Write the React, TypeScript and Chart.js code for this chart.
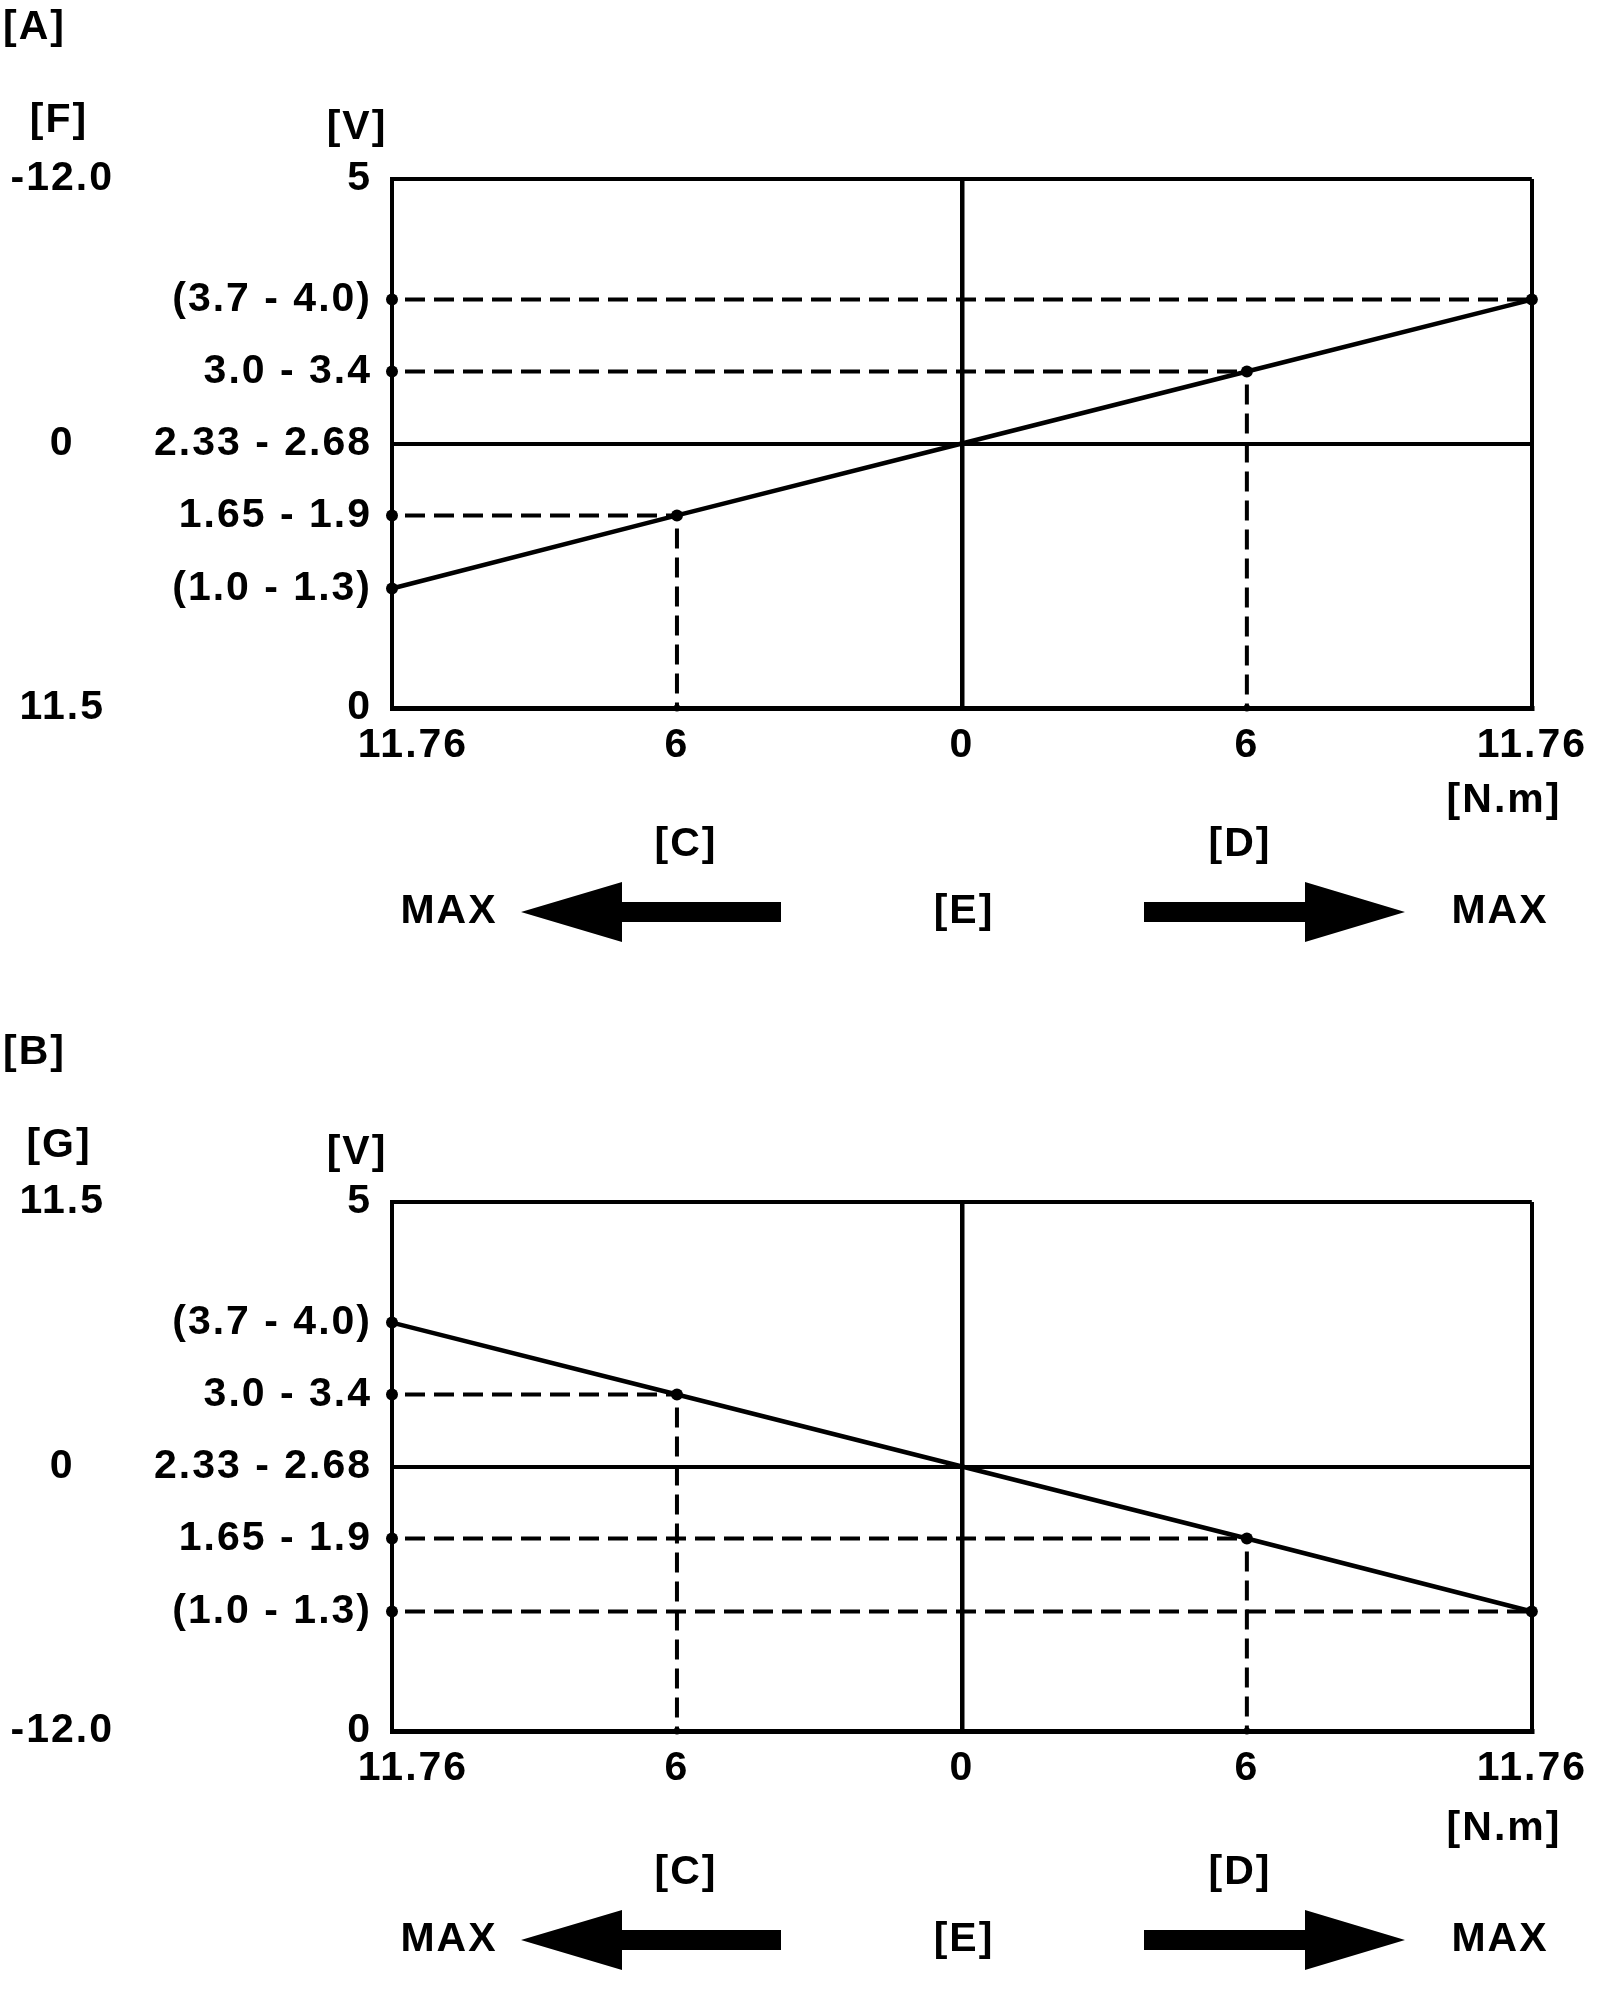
import React, { useEffect, useRef } from "react";
import { Chart, registerables } from "chart.js";

Chart.register(...registerables);

const FONT = '"Liberation Sans", Arial, Helvetica, sans-serif';
const FONT_SIZE = 41;
const FONT_WEIGHT = "bold";
const LETTER_SPACING = "2px";

// ---- data ----
const TORQUE_POS = [0, 1, 2, 3, 4];
const TORQUE_LABELS = ["11.76", "6", "0", "6", "11.76"];
const VOLT_TICKS = [0, 1.13, 1.82, 2.5, 3.18, 3.86, 5];
const VOLT_LABELS = ["0", "(1.0 - 1.3)", "1.65 - 1.9", "2.33 - 2.68", "3.0 - 3.4", "(3.7 - 4.0)", "5"];
const SIDE_TICKS = [0, 2.5, 5];
const F_LABELS = ["11.5", "0", "-12.0"];
const G_LABELS = ["-12.0", "0", "11.5"];
const VOLT_A = [1.13, 1.82, 2.5, 3.18, 3.86];
const VOLT_B = [3.86, 3.18, 2.5, 1.82, 1.13];
const GUIDE_IDX = [1, 3, 4];
const DROP_IDX = [1, 3];

type PanelCfg = {
  title: string;
  side: string;
  sideLabels: string[];
  volts: number[];
  topDy: number;
  lowDy: number;
};

const PANEL_A: PanelCfg = { title: "[A]", side: "[F]", sideLabels: F_LABELS, volts: VOLT_A, topDy: 0, lowDy: 0 };
const PANEL_B: PanelCfg = { title: "[B]", side: "[G]", sideLabels: G_LABELS, volts: VOLT_B, topDy: 2, lowDy: 5 };

const DASH = [20, 9];

function buildDatasets(volts: number[]) {
  const ds: any[] = [];
  ds.push({
    label: "main",
    data: TORQUE_POS.map((x, i) => ({ x, y: volts[i] })),
    borderColor: "#000",
    borderWidth: 4.5,
    pointRadius: TORQUE_POS.map((_, i) => (i === 2 ? 0 : 6)),
    pointBackgroundColor: "#000",
    pointBorderWidth: 0,
    clip: false,
    tension: 0,
  });
  GUIDE_IDX.forEach((i) => {
    ds.push({
      label: "h" + i,
      data: [
        { x: TORQUE_POS[0], y: volts[i] },
        { x: TORQUE_POS[i], y: volts[i] },
      ],
      borderColor: "#000",
      borderWidth: 4,
      borderDash: DASH,
      borderDashOffset: 16,
      pointRadius: [6, 0],
      pointBackgroundColor: "#000",
      pointBorderWidth: 0,
      clip: false,
    });
  });
  DROP_IDX.forEach((i) => {
    ds.push({
      label: "v" + i,
      data: [
        { x: TORQUE_POS[i], y: volts[i] },
        { x: TORQUE_POS[i], y: 0 },
      ],
      borderColor: "#000",
      borderWidth: 4,
      borderDash: DASH,
      borderDashOffset: 16,
      pointRadius: [0, 3.5],
      pointBackgroundColor: "#000",
      pointBorderWidth: 0,
      clip: false,
    });
  });
  return ds;
}

const spacingPlugin = {
  id: "spacing",
  beforeUpdate(chart: any) {
    chart.ctx.letterSpacing = LETTER_SPACING;
  },
  beforeLayout(chart: any) {
    chart.ctx.letterSpacing = LETTER_SPACING;
  },
  beforeDraw(chart: any) {
    chart.ctx.letterSpacing = LETTER_SPACING;
    // the first torque label sits a little right of its tick in the drawing
    const s = chart.scales && chart.scales.x;
    if (s && typeof s.getLabelItems === "function") {
      try {
        const items = s.getLabelItems();
        if (items && items[0] && !items[0].__shifted && items[0].options && items[0].options.translation) {
          items[0].options.translation[0] += 21;
          items[0].__shifted = true;
        }
      } catch (e) {
        /* ignore */
      }
    }
  },
};

function annotPlugin(cfg: PanelCfg) {
  return {
    id: "annot",
    afterDraw(chart: any) {
      const ctx = chart.ctx as CanvasRenderingContext2D;
      ctx.save();
      (ctx as any).letterSpacing = LETTER_SPACING;
      ctx.fillStyle = "#000";
      ctx.font = `${FONT_WEIGHT} ${FONT_SIZE}px ${FONT}`;
      ctx.textBaseline = "middle";
      const t = cfg.topDy;
      const l = cfg.lowDy;
      ctx.textAlign = "left";
      ctx.fillText(cfg.title, 3, 28 + t);
      ctx.textAlign = "center";
      ctx.fillText(cfg.side, 59, 121 + t);
      ctx.fillText("[V]", 357, 128 + t);
      ctx.fillText("[N.m]", 1504, 801 + l);
      ctx.fillText("[C]", 686, 845 + l);
      ctx.fillText("[D]", 1240, 845 + l);
      ctx.fillText("MAX", 449, 912 + l);
      ctx.fillText("[E]", 964, 912 + l);
      ctx.fillText("MAX", 1500, 912 + l);
      const cy = 912 + l;
      // left arrow
      ctx.beginPath();
      ctx.moveTo(521, cy);
      ctx.lineTo(622, cy - 30);
      ctx.lineTo(622, cy - 10);
      ctx.lineTo(781, cy - 10);
      ctx.lineTo(781, cy + 10);
      ctx.lineTo(622, cy + 10);
      ctx.lineTo(622, cy + 30);
      ctx.closePath();
      ctx.fill();
      // right arrow
      ctx.beginPath();
      ctx.moveTo(1405, cy);
      ctx.lineTo(1305, cy - 30);
      ctx.lineTo(1305, cy - 10);
      ctx.lineTo(1144, cy - 10);
      ctx.lineTo(1144, cy + 10);
      ctx.lineTo(1305, cy + 10);
      ctx.lineTo(1305, cy + 30);
      ctx.closePath();
      ctx.fill();
      ctx.restore();
    },
  };
}

const tickFont = { family: FONT, size: FONT_SIZE, weight: FONT_WEIGHT };

function buildConfig(cfg: PanelCfg): any {
  return {
    type: "line",
    data: { datasets: buildDatasets(cfg.volts) },
    plugins: [spacingPlugin, annotPlugin(cfg)],
    options: {
      animation: false,
      responsive: false,
      events: [],
      layout: { padding: { left: 0, right: 68, top: 179, bottom: 189 } },
      plugins: { legend: { display: false }, tooltip: { enabled: false }, title: { display: false } },
      scales: {
        x: {
          type: "linear",
          min: 0,
          max: 4,
          afterBuildTicks: (s: any) => {
            s.ticks = TORQUE_POS.map((v) => ({ value: v }));
          },
          afterFit: (s: any) => {
            s.height = 80;
          },
          ticks: {
            callback: (_v: any, i: number) => TORQUE_LABELS[i],
            autoSkip: false,
            maxRotation: 0,
            minRotation: 0,
            padding: 13,
            color: "#000",
            font: tickFont,
          },
          grid: {
            drawTicks: false,
            color: (c: any) => (c.tick && (c.tick.value === 2 || c.tick.value === 4) ? "#000" : "rgba(0,0,0,0)"),
            lineWidth: (c: any) => (c.tick && c.tick.value === 4 ? 4 : 4.5),
          },
          border: { display: true, color: "#000", width: 5 },
        },
        y: {
          type: "linear",
          position: "left",
          weight: 0,
          min: 0,
          max: 5,
          afterBuildTicks: (s: any) => {
            s.ticks = VOLT_TICKS.map((v) => ({ value: v }));
          },
          afterFit: (s: any) => {
            s.width = 272;
          },
          ticks: {
            callback: (_v: any, i: number) => VOLT_LABELS[i],
            autoSkip: false,
            padding: 20,
            color: "#000",
            font: tickFont,
          },
          grid: {
            drawTicks: false,
            color: (c: any) => (c.tick && (c.tick.value === 2.5 || c.tick.value === 5) ? "#000" : "rgba(0,0,0,0)"),
            lineWidth: 4,
          },
          border: { display: true, color: "#000", width: 4 },
        },
        side: {
          type: "linear",
          position: "left",
          weight: 1,
          min: 0,
          max: 5,
          afterBuildTicks: (s: any) => {
            s.ticks = SIDE_TICKS.map((v) => ({ value: v }));
          },
          afterFit: (s: any) => {
            s.width = 120;
          },
          ticks: {
            callback: (_v: any, i: number) => cfg.sideLabels[i],
            autoSkip: false,
            crossAlign: "center",
            padding: 6,
            color: "#000",
            font: tickFont,
          },
          grid: { display: false, drawTicks: false },
          border: { display: false },
        },
      },
    },
  };
}

function Panel({ cfg, top }: { cfg: PanelCfg; top: number }) {
  const ref = useRef<HTMLCanvasElement | null>(null);
  useEffect(() => {
    if (!ref.current) return;
    const chart = new Chart(ref.current, buildConfig(cfg));
    return () => chart.destroy();
  }, [cfg]);
  return (
    <canvas
      ref={ref}
      width={1600}
      height={977}
      style={{ position: "absolute", left: 0, top, width: 1600, height: 977 }}
    />
  );
}

export default function App() {
  return (
    <div
      style={{
        position: "absolute",
        left: 0,
        top: 0,
        width: 1600,
        height: 2000,
        overflow: "hidden",
        background: "#fff",
      }}
    >
      <Panel cfg={PANEL_A} top={0} />
      <Panel cfg={PANEL_B} top={1023} />
    </div>
  );
}
